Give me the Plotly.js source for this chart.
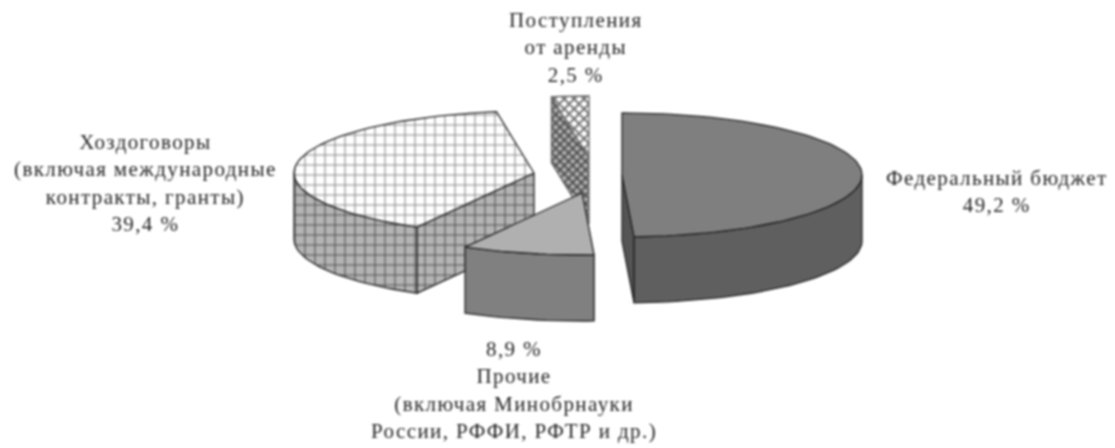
<!DOCTYPE html>
<html><head><meta charset="utf-8">
<script src="https://cdn.plot.ly/plotly-3.0.1.min.js"></script>
<style>html,body{margin:0;padding:0;background:#fff}#c{width:1115px;height:448px;filter:blur(0.9px)}
.annotation-text{letter-spacing:1.4px}</style>
</head><body><div id="c"></div>
<script>
const categories = ["Федеральный бюджет","Прочие","Хоздоговоры","Поступления от аренды"];
const shares = [49.2, 8.9, 39.4, 2.5];
const shareText = ["49,2 %","8,9 %","39,4 %","2,5 %"];
const labelLines = [
  ["Федеральный бюджет","49,2 %"],
  ["8,9 %","Прочие","(включая Минобрнауки","России, РФФИ, РФТР и др.)"],
  ["Хоздоговоры","(включая международные","контракты, гранты)","39,4 %"],
  ["Поступления","от аренды","2,5 %"]
];
// pie geometry (explode offsets in pixels around the pie)
const RX=240, RY=62, DEPTH=66;
const startDeg=0;
const centres=[[622,175],[582,193],[534,173],[589,158]];
const labelPos=[[996,191],[514,390],[145,183],[575,47]];
const styles=[
 {top:{color:'#7f7f7f'},wall:{color:'#5f5f5f'},radial:{color:'#555555'},line:'#222222'},
 {top:{color:'#b0b0b0'},wall:{color:'#808080'},radial:{color:'#b5b5b5'},line:'#222222'},
 {top:{color:'#ffffff',pattern:{shape:'+',bgcolor:'#ffffff',fgcolor:'#888888',size:10,solidity:0.2}},
  wall:{color:'#b0b0b0',pattern:{shape:'+',bgcolor:'#b4b4b4',fgcolor:'#505050',size:10,solidity:0.2}},
  radial:{color:'#b0b0b0',pattern:{shape:'+',bgcolor:'#b4b4b4',fgcolor:'#505050',size:10,solidity:0.2}},line:'#222222'},
 {top:{color:'#ffffff',pattern:{shape:'x',bgcolor:'#ffffff',fgcolor:'#666666',size:7,solidity:0.45}},
  wall:{color:'#999999',pattern:{shape:'x',bgcolor:'#b0b0b0',fgcolor:'#444444',size:6,solidity:0.45}},
  radial:{color:'#999999',pattern:{shape:'x',bgcolor:'#b0b0b0',fgcolor:'#444444',size:6,solidity:0.45}},line:'#666666'}
];
const total=shares.reduce((a,b)=>a+b,0);
let acc=startDeg; const spans=shares.map(s=>{const a=acc; acc+=s/total*360; return [a,acc];});
const pt=(c,d,drop=0)=>{const r=d*Math.PI/180;return [c[0]+RX*Math.sin(r),c[1]-RY*Math.cos(r)+drop];};
const arc=(c,a,b,drop=0)=>{const out=[];const n=Math.max(2,Math.ceil(Math.abs(b-a)/2));for(let i=0;i<=n;i++)out.push(pt(c,a+(b-a)*i/n,drop));return out;};
const poly=(pts,st,line,name,w=1.3)=>({type:'scatter',mode:'lines',x:pts.map(p=>p[0]),y:pts.map(p=>p[1]),fill:'toself',
  fillcolor:st.color,fillpattern:st.pattern||undefined,line:{color:line,width:w},hoverinfo:'skip',showlegend:false,name});
function slice(i){
  const c=centres[i],[a,b]=spans[i],st=styles[i],out=[];
  const down=[c[0],c[1]+DEPTH];
  const radial=(d)=>{const p=pt(c,d);return [c,p,[p[0],p[1]+DEPTH],down,c];};
  if(i===0) out.push(poly(radial(b),st.radial,st.line,categories[i]));
  if(i===1) out.push(poly(radial(a),st.radial,'#aaaaaa',categories[i]));
  if(i===2) out.push(poly(radial(a),st.radial,st.line,categories[i]));
  if(i===3) out.push(poly(radial(a),st.radial,st.line,categories[i]));
  const fa=Math.max(a,90), fb=Math.min(b,270);
  if(fb>fa){ out.push(poly(arc(c,fa,fb).concat(arc(c,fb,fa,DEPTH)).concat([pt(c,fa)]),st.wall,st.line,categories[i])); }
  out.push(poly([c].concat(arc(c,a,b)).concat([c]),st.top,st.line,categories[i]));
  return out;
}
const order=[3,2,0,1];
const traces=order.flatMap(slice);
const annotations=labelLines.map((l,i)=>({xref:'x',yref:'y',x:labelPos[i][0],y:labelPos[i][1],text:l.join('<br>'),showarrow:false,align:'center',xanchor:'center',yanchor:'middle',font:{family:'"Liberation Serif",serif',size:21,color:'#222222'}}));
Plotly.newPlot('c',traces,{width:1115,height:448,margin:{l:0,r:0,t:0,b:0},paper_bgcolor:'#fff',plot_bgcolor:'#fff',showlegend:false,
 xaxis:{range:[0,1115],visible:false,fixedrange:true},yaxis:{range:[448,0],visible:false,fixedrange:true},annotations,hovermode:false},{displayModeBar:false,staticPlot:true});
</script></body></html>
